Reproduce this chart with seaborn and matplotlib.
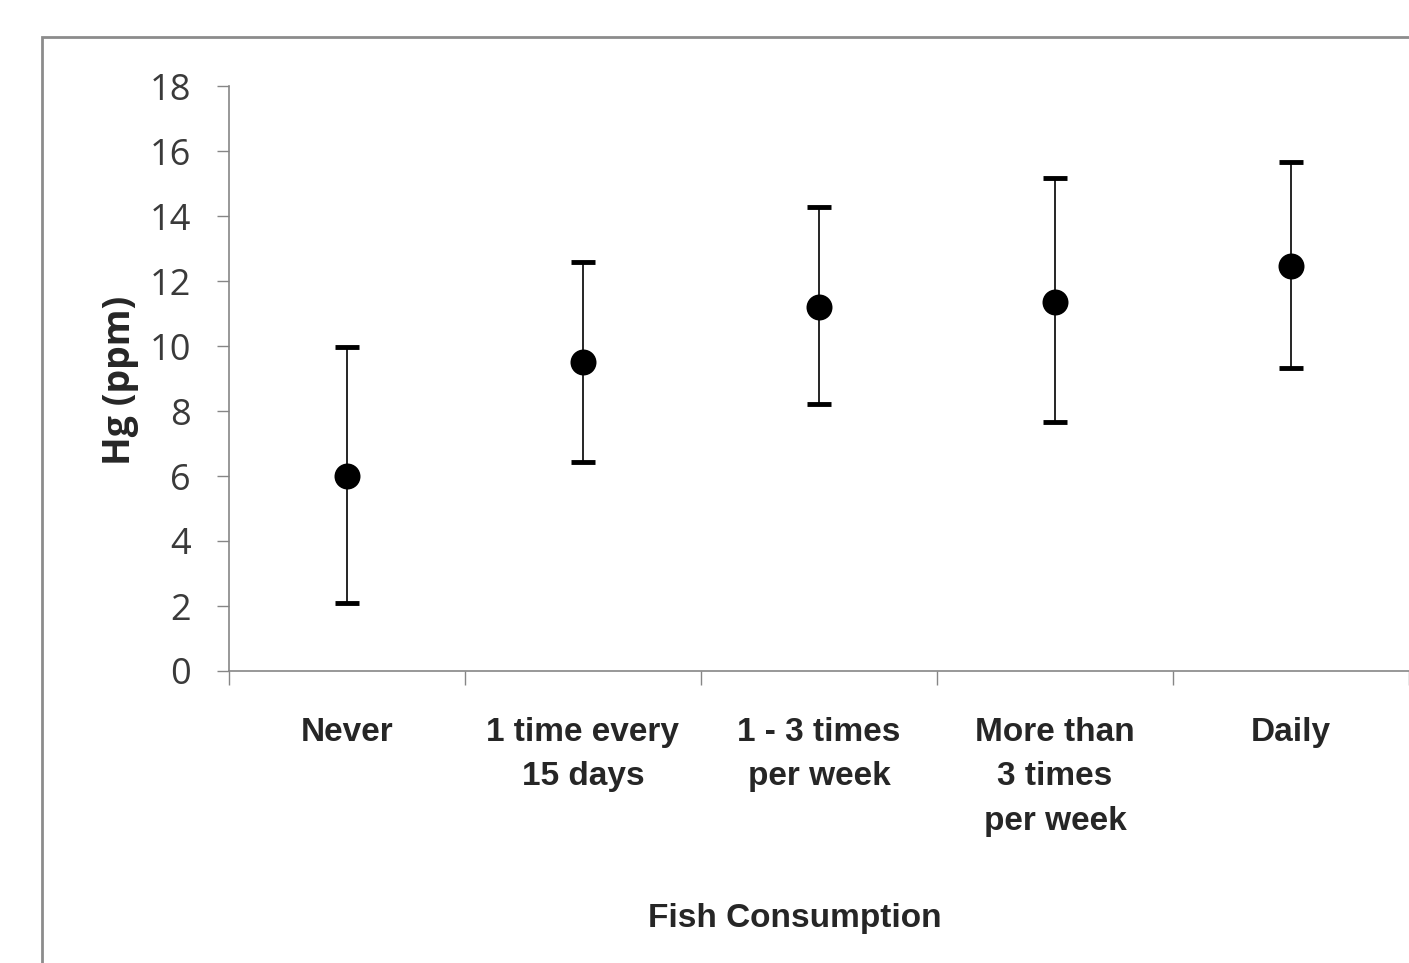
import numpy as np
import seaborn as sns
import matplotlib.pyplot as plt
from matplotlib.patches import Rectangle
from matplotlib.ticker import FixedLocator

# Hg levels by fish consumption frequency
categories = ['Never', '1 time every\n15 days', '1 - 3 times\nper week',
              'More than\n3 times\nper week', 'Daily']
means = [6.0, 9.5, 11.2, 11.35, 12.45]
upper = [9.97, 12.6, 14.28, 15.17, 15.66]
lower = [2.09, 6.43, 8.22, 7.66, 9.32]

sns.set_style('white')
plt.rcParams['font.family'] = ['Open Sans', 'DejaVu Sans']

fig = plt.figure(figsize=(14.09, 9.63), dpi=100)
ax = fig.add_axes([229 / 1409, 1 - 671 / 963, 1 - 229 / 1409, (671 - 86) / 963])

# outer chart frame
fig.patches.append(Rectangle((42 / 1409, -0.05), 1.1, 1 - 37 / 963 + 0.05,
                             transform=fig.transFigure, fill=False,
                             edgecolor='#8c8c8c', linewidth=2))

x = np.arange(len(categories))
yerr = [np.array(means) - np.array(lower), np.array(upper) - np.array(means)]
ax.errorbar(x, means, yerr=yerr, fmt='none', ecolor='black', elinewidth=1.2,
            capsize=8.5, capthick=3.5, zorder=2)
sns.scatterplot(x=x, y=means, ax=ax, color='black', s=300, edgecolor='black',
                zorder=3, legend=False)

ax.set_xlim(-0.5, len(categories) - 0.5)
ax.set_ylim(0, 18)
ax.set_yticks(range(0, 19, 2))
ax.set_xticks(x)
ax.set_xticklabels(categories, fontsize=24, fontweight='bold',
                   family='Liberation Sans', linespacing=1.56, va='top')
ax.xaxis.set_minor_locator(FixedLocator(np.arange(-0.5, len(categories), 1)))
ax.tick_params(axis='x', which='major', length=0, pad=33)
ax.tick_params(axis='x', which='minor', length=10, width=1, color='#868686',
               direction='out', bottom=True)
ax.tick_params(axis='y', length=8.5, width=1, color='#868686', direction='out',
               left=True, pad=19, labelsize=26, labelcolor='#3a3a3a')

for s in ['top', 'right']:
    ax.spines[s].set_visible(False)
for s in ['left', 'bottom']:
    ax.spines[s].set_color('#868686')
    ax.spines[s].set_linewidth(1.2)

fig.text(120 / 1409, 1 - 380 / 963, 'Hg (ppm)', rotation=90, ha='center',
         va='center', fontsize=27, fontweight='bold')
fig.text(795 / 1409, 1 - 918 / 963, 'Fish Consumption', ha='center', va='center',
         fontsize=24, fontweight='bold', family='Liberation Sans')

fig.savefig('out.png', dpi=100)
